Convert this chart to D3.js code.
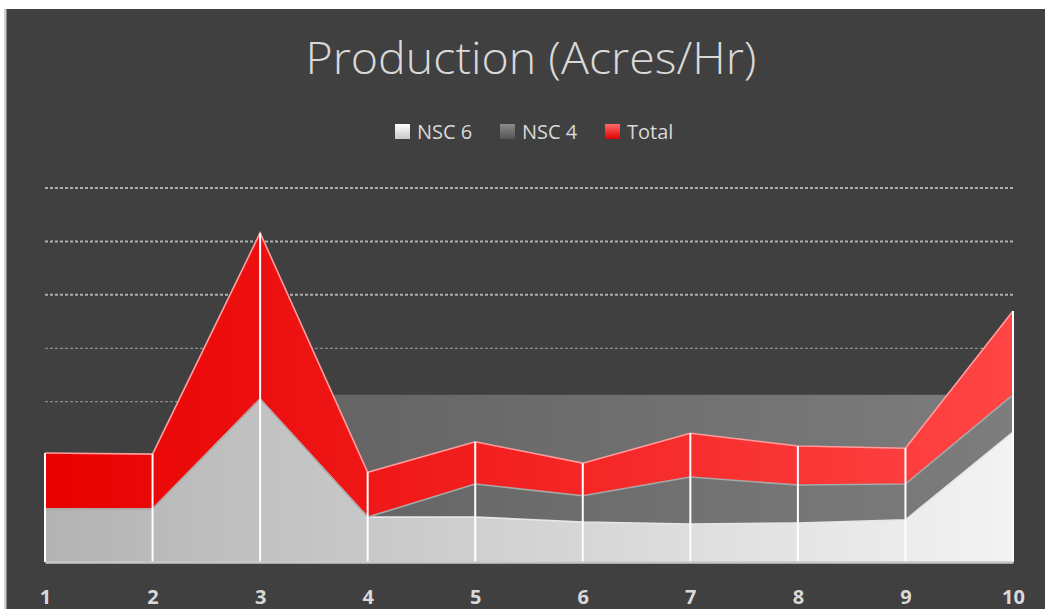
<!DOCTYPE html>
<html>
<head>
<meta charset="utf-8">
<script src="https://cdn.jsdelivr.net/npm/d3@7"></script>
<style>
  html, body { margin: 0; padding: 0; background: #ffffff; }
  svg { display: block; }
</style>
</head>
<body>
<svg id="chart" width="1045" height="609"></svg>
<script>
// ---- data ----
const categories = [1, 2, 3, 4, 5, 6, 7, 8, 9, 10];
const nsc6  = [0.99, 0.99, 3.05, 0.84, 0.84, 0.75, 0.71, 0.73, 0.79, 2.43];
const nsc4  = [0.00, 0.00, 0.00, 0.00, 0.62, 0.49, 0.88, 0.71, 0.67, 0.70];
const total = [1.05, 1.03, 3.11, 0.84, 0.79, 0.61, 0.82, 0.73, 0.67, 1.57];
const seriesNames = ["NSC 6", "NSC 4", "Total"];
const gridValues = [1, 2, 3, 4, 5, 6, 7];
const titleText = "Production (Acres/Hr)";

// ---- layout ----
const W = 1045, H = 609;
const svg = d3.select("#chart");
const x = d3.scalePoint().domain(categories).range([45, 1013]);
const y = d3.scaleLinear().domain([0, 7]).range([562, 188]);

const rows = categories.map((c, i) => ({ cat: c, "NSC 6": nsc6[i], "NSC 4": nsc4[i], "Total": total[i] }));
const stacked = d3.stack().keys(seriesNames)(rows);

// background
svg.append("rect").attr("x", 6).attr("y", 9).attr("width", W - 6).attr("height", H - 9).attr("fill", "#404040");
svg.append("rect").attr("x", 4).attr("y", 9).attr("width", 2.5).attr("height", H - 9).attr("fill", "#cfcfcf");

// gradients
const defs = svg.append("defs");
function hGrad(id, c0, c1) {
  const g = defs.append("linearGradient").attr("id", id)
    .attr("gradientUnits", "userSpaceOnUse")
    .attr("x1", x.range()[0]).attr("x2", x.range()[1]).attr("y1", 0).attr("y2", 0);
  g.append("stop").attr("offset", "0%").attr("stop-color", c0);
  g.append("stop").attr("offset", "100%").attr("stop-color", c1);
}
function vGrad(id, c0, c1) {
  const g = defs.append("linearGradient").attr("id", id)
    .attr("x1", 0).attr("x2", 0).attr("y1", 0).attr("y2", 1);
  g.append("stop").attr("offset", "0%").attr("stop-color", c0);
  g.append("stop").attr("offset", "100%").attr("stop-color", c1);
}
hGrad("g6", "#b3b3b3", "#f3f3f3");
hGrad("g4", "#5a5a5a", "#7d7d7d");
hGrad("gt", "#e80000", "#ff4545");
vGrad("l6", "#ffffff", "#c8c8c8");
vGrad("l4", "#8a8a8a", "#555555");
vGrad("lt", "#ff6a6a", "#e00000");
const fills = { "NSC 6": "url(#g6)", "NSC 4": "url(#g4)", "Total": "url(#gt)" };
const legendFills = { "NSC 6": "url(#l6)", "NSC 4": "url(#l4)", "Total": "url(#lt)" };
const edgeColors = { "NSC 6": "#e6e6e6", "NSC 4": "#a8a8a8", "Total": "#ff9d9d" };

// gridlines
svg.append("g").selectAll("line").data(gridValues).join("line")
  .attr("x1", x.range()[0]).attr("x2", x.range()[1])
  .attr("y1", d => y(d)).attr("y2", d => y(d))
  .attr("stroke", "#c4c4c4")
  .attr("stroke-width", d => d >= 5 ? 2 : 1.2)
  .attr("stroke-dasharray", "3 2")
  .attr("opacity", d => d >= 5 ? 0.85 : 0.55);

// NSC 4 bounding band (rendered behind the stack as in the reference)
const s4 = stacked[1];
const band4Top = d3.max(s4, d => d[1]);
const bandStart = x(categories[2]);
svg.append("rect")
  .attr("x", bandStart).attr("y", y(band4Top))
  .attr("width", x.range()[1] - bandStart).attr("height", y(0) - y(band4Top))
  .attr("fill", "url(#g4)");

// areas
const area = d3.area().x(d => x(d.data.cat)).y0(d => y(d[0])).y1(d => y(d[1]));
const topLine = d3.line().x(d => x(d.data.cat)).y(d => y(d[1]));
svg.append("g").selectAll("path").data(stacked).join("path")
  .attr("d", area).attr("fill", s => fills[s.key]);
svg.append("g").selectAll("path").data(stacked).join("path")
  .attr("d", topLine).attr("fill", "none")
  .attr("stroke", s => edgeColors[s.key]).attr("stroke-width", 1.6);

// drop lines
const topSeries = stacked[stacked.length - 1];
svg.append("g").selectAll("line").data(topSeries).join("line")
  .attr("x1", d => x(d.data.cat)).attr("x2", d => x(d.data.cat))
  .attr("y1", y(0)).attr("y2", d => y(d[1]))
  .attr("stroke", "#ffffff").attr("stroke-width", 2);

// baseline axis
const xAxis = d3.axisBottom(x).tickSize(0).tickPadding(0);
const axisG = svg.append("g").attr("transform", `translate(0,${y(0)})`).call(xAxis);
axisG.select(".domain").attr("stroke", "#c8c8c8").attr("stroke-width", 2.5);
axisG.selectAll("text")
  .attr("dy", null).attr("y", 42)
  .attr("fill", "#d9d9d9")
  .attr("font-family", "'Open Sans', sans-serif")
  .attr("font-weight", 700)
  .attr("font-size", 20);

// title
svg.append("text")
  .attr("x", 531).attr("y", 74)
  .attr("text-anchor", "middle")
  .attr("fill", "#d9d9d9")
  .attr("font-family", "'Open Sans', sans-serif")
  .attr("font-weight", 300)
  .attr("font-size", 45)
  .attr("textLength", 451).attr("lengthAdjust", "spacingAndGlyphs")
  .text(titleText);

// legend
const legendX = [395, 500, 605];
const lg = svg.append("g");
seriesNames.forEach((name, i) => {
  lg.append("rect").attr("x", legendX[i]).attr("y", 124).attr("width", 15).attr("height", 15)
    .attr("fill", legendFills[name]);
  lg.append("text").attr("x", legendX[i] + 22).attr("y", 139)
    .attr("fill", "#d9d9d9")
    .attr("font-family", "'Open Sans', sans-serif")
    .attr("font-size", 20)
    .text(name);
});
</script>
</body>
</html>
